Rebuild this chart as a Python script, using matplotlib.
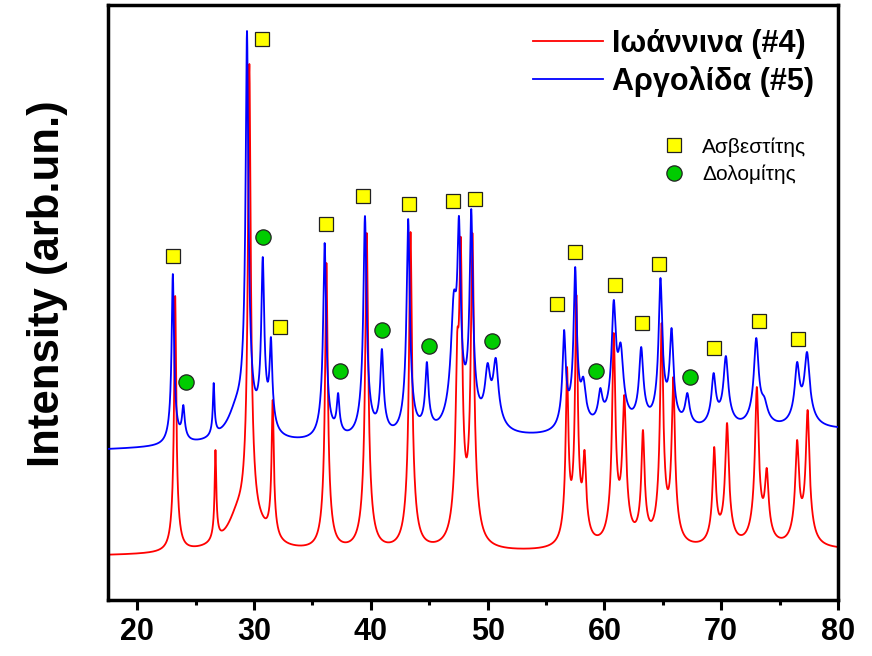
import numpy as np
import matplotlib
matplotlib.use("Agg")
import matplotlib.pyplot as plt
from matplotlib.lines import Line2D
from matplotlib.ticker import MultipleLocator

plt.rcParams['font.family'] = ['Liberation Sans', 'DejaVu Sans']

# XRD reflections: 2θ position (deg), apex intensity (arb. units), FWHM (deg)
ioannina_pos = [23.25, 26.70, 28.60, 29.60, 30.50, 31.60, 36.20, 39.65, 43.40,
                47.40, 47.70, 48.70, 56.80, 57.60, 58.30, 60.80, 61.70, 63.30,
                64.90, 65.90, 69.40, 70.50, 73.05, 73.90, 76.50, 77.40]
ioannina_top = [304, 150, 100, 536, 93, 200, 337, 367, 368,
                268, 363, 367, 233, 305, 150, 267, 205, 170,
                277, 223, 153, 177, 213, 132, 160, 190]
ioannina_fwhm = [0.20, 0.15, 2.00, 0.26, 1.80, 0.20, 0.25, 0.28, 0.28,
                 0.30, 0.28, 0.30, 0.25, 0.25, 0.30, 0.30, 0.35, 0.30,
                 0.30, 0.30, 0.30, 0.35, 0.35, 0.35, 0.35, 0.35]
ioannina_bg = [44, 50]

argolida_pos = [23.05, 23.95, 26.55, 28.50, 29.40, 30.15, 30.75, 31.45, 36.05,
                37.20, 39.50, 40.95, 43.20, 44.80, 47.10, 47.55, 48.60, 50.00,
                50.70, 56.55, 57.50, 58.20, 59.65, 60.80, 61.40, 63.15, 64.80,
                65.75, 67.10, 69.35, 70.40, 73.00, 73.70, 76.50, 77.35]
argolida_top = [326, 195, 217, 205, 569, 210, 343, 263, 357,
                207, 384, 251, 381, 238, 308, 384, 391, 237,
                242, 270, 333, 223, 212, 300, 257, 253, 322,
                272, 207, 227, 244, 262, 203, 238, 248]
argolida_fwhm = [0.22, 0.25, 0.15, 1.80, 0.26, 1.20, 0.28, 0.25, 0.28,
                 0.25, 0.30, 0.30, 0.30, 0.30, 0.55, 0.30, 0.30, 0.50,
                 0.50, 0.30, 0.30, 0.45, 0.40, 0.40, 0.50, 0.40, 0.35,
                 0.35, 0.40, 0.40, 0.45, 0.45, 0.60, 0.45, 0.50]
argolida_bg = [150, 170]

# Phase markers (2θ, height)
calcite_pos = [23.1, 30.7, 32.2, 36.15, 39.3, 43.3, 47.05, 48.9,
               55.9, 57.5, 60.95, 63.2, 64.7, 69.4, 73.2, 76.6]
calcite_y = [344, 561, 273, 376, 404, 396, 399, 401,
             296, 348, 315, 277, 336, 252, 279, 261]
dolomite_pos = [24.2, 30.8, 37.4, 41.0, 44.95, 50.35, 59.3, 67.3]
dolomite_y = [218, 363, 229, 270, 254, 259, 229, 223]

x_range = (17.5, 80.0)


def lorentz(x, c, w):
    return 1.0 / (1.0 + (2.0 * (x - c) / w) ** 2)


def profile(x, c, w):
    # sharp core plus a wider skirt
    return 0.8 * lorentz(x, c, w) + 0.2 * lorentz(x, c, 3.0 * w)


def background(x, bg):
    return bg[0] + (bg[1] - bg[0]) * (x - x_range[0]) / (x_range[1] - x_range[0])


def pattern(x, pos, top, fwhm, bg):
    pos = np.asarray(pos, float)
    top = np.asarray(top, float)
    fwhm = np.asarray(fwhm, float)
    # amplitudes chosen so the summed profile passes through each apex value
    A = profile(pos[:, None], pos[None, :], fwhm[None, :])
    amp = np.linalg.solve(A, top - background(pos, bg))
    return background(x, bg) + (profile(x[:, None], pos[None, :], fwhm[None, :]) * amp).sum(axis=1)


two_theta = np.linspace(x_range[0], x_range[1], 6251)
y_ioannina = pattern(two_theta, ioannina_pos, ioannina_top, ioannina_fwhm, ioannina_bg)
y_argolida = pattern(two_theta, argolida_pos, argolida_top, argolida_fwhm, argolida_bg)

fig = plt.figure(figsize=(8.72, 6.56), dpi=100)
ax = fig.add_axes([108 / 872, 56 / 656, 730 / 872, 595 / 656])

ax.plot(two_theta, y_ioannina, color='#FF0000', lw=1.3, zorder=2)
ax.plot(two_theta, y_argolida, color='#0000FF', lw=1.3, zorder=3)

ax.plot(calcite_pos, calcite_y, ls='none', marker='s', ms=10, mfc='#FFFF00',
        mec='#222222', mew=0.9, zorder=5)
ax.plot(dolomite_pos, dolomite_y, ls='none', marker='o', ms=11, mfc='#00CC00',
        mec='#222222', mew=0.9, zorder=5)

ax.set_xlim(*x_range)
ax.set_ylim(0, 595)
ax.set_xticks(range(20, 81, 10))
ax.xaxis.set_minor_locator(MultipleLocator(5))
ax.set_yticks([])
ax.tick_params(axis='x', which='major', direction='out', length=7, width=2.2,
               pad=5, labelsize=22)
ax.tick_params(axis='x', which='minor', direction='out', length=3.5, width=2.2)
for lab in ax.get_xticklabels():
    lab.set_fontweight('bold')
for sp in ax.spines.values():
    sp.set_linewidth(2.5)

fig.text(48 / 872, 1 - 284 / 656, 'Intensity (arb.un.)', rotation=90,
         ha='center', va='center', fontsize=31.5, fontweight='bold')

series_handles = [Line2D([], [], color='#FF0000', lw=1.3),
                  Line2D([], [], color='#0000FF', lw=1.3)]
leg1 = ax.legend(series_handles, ['Ιωάννινα (#4)', 'Αργολίδα (#5)'],
                 loc='upper left', bbox_to_anchor=(0.582, 0.960),
                 prop={'size': 22, 'weight': 'bold'}, frameon=False,
                 handlelength=2.3, handletextpad=0.3, labelspacing=0.23,
                 borderpad=0, borderaxespad=0)
ax.add_artist(leg1)

phase_handles = [Line2D([], [], ls='none', marker='s', ms=10, mfc='#FFFF00',
                        mec='#222222', mew=0.9),
                 Line2D([], [], ls='none', marker='o', ms=11, mfc='#00CC00',
                        mec='#222222', mew=0.9)]
ax.legend(phase_handles, ['Ασβεστίτης', 'Δολομίτης'],
          loc='upper left', bbox_to_anchor=(0.764, 0.778),
          prop={'size': 15}, frameon=False,
          handlelength=0.8, handletextpad=0.95, labelspacing=0.4,
          borderpad=0, borderaxespad=0)

fig.savefig('out.png', dpi=100)
